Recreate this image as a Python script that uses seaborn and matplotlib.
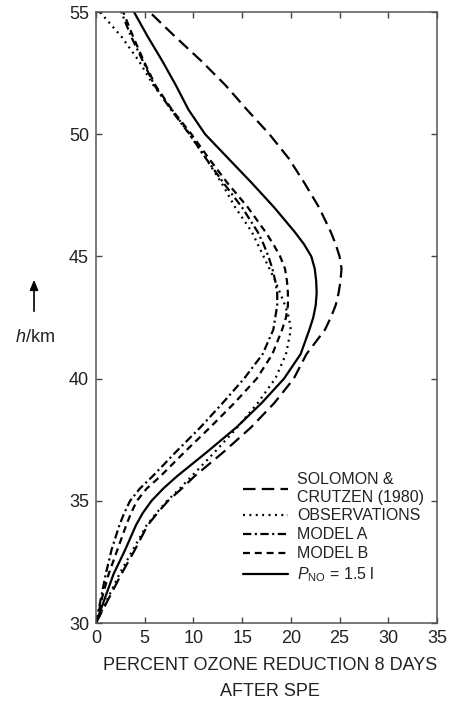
import seaborn as sns
import matplotlib.pyplot as plt
import pandas as pd

# altitude (km) and percent ozone reduction 8 days after the SPE
heights = [30, 31, 32, 33, 34, 34.5, 35, 35.5, 36, 37, 38, 39, 40, 41, 42, 42.5, 43, 43.5,
           44, 44.5, 45, 45.5, 46, 47, 48, 49, 50, 51, 52, 53, 54, 55]
solomon = [0, 1.3, 2.6, 4.0, 5.3, 6.3, 7.4, 8.8, 10.1, 13.1, 15.9, 18.3, 20.3, 21.6, 23.5, 24.1,
           24.6, 24.9, 25.1, 25.2, 25.0, 24.6, 24.1, 22.9, 21.4, 19.8, 17.8, 15.5, 13.3, 10.8, 8.1, 5.5]
observations = [0, 1.2, 2.4, 3.8, 5.2, 6.2, 7.3, 8.6, 9.8, 12.2, 14.5, 16.6, 18.4, 19.5, 20.0, 19.8,
                19.4, 18.9, 18.4, 17.8, 17.2, 16.6, 16.0, 14.3, 12.9, 11.3, 9.6, 7.8, 5.9, 4.4, 2.6, 0.4]
model_a = [0, 0.5, 1.0, 1.6, 2.4, 2.9, 3.5, 4.5, 5.8, 8.2, 10.7, 13.0, 15.2, 17.1, 18.2, 18.4,
           18.6, 18.6, 18.4, 18.1, 17.7, 17.2, 16.6, 15.0, 13.1, 11.3, 9.6, 7.7, 6.0, 4.8, 3.6, 2.6]
model_b = [0, 0.6, 1.3, 2.2, 3.1, 3.6, 4.2, 5.2, 6.6, 9.1, 11.7, 14.2, 16.5, 18.1, 19.1, 19.5,
           19.7, 19.7, 19.6, 19.4, 18.9, 18.2, 17.4, 15.6, 13.5, 11.6, 9.8, 7.8, 6.1, 4.9, 3.8, 2.8]
p_no = [0, 0.9, 1.8, 3.0, 4.1, 4.8, 5.7, 6.9, 8.3, 11.4, 14.4, 17.0, 19.3, 21.0, 21.9, 22.3,
        22.55, 22.65, 22.6, 22.45, 22.1, 21.35, 20.4, 18.3, 16.0, 13.6, 11.2, 9.5, 8.2, 6.8, 5.3, 3.9]

names = ["SOLOMON &\nCRUTZEN (1980)", "OBSERVATIONS", "MODEL A", "MODEL B",
         r"$P_{\mathrm{NO}}$ = 1.5 l"]
series = [solomon, observations, model_a, model_b, p_no]

df = pd.concat([pd.DataFrame({"series": n, "height": heights, "reduction": v})
                for n, v in zip(names, series)], ignore_index=True)

sns.set_style("ticks")
plt.rcParams["font.family"] = ["Liberation Sans", "DejaVu Sans"]
plt.rcParams["mathtext.fontset"] = "custom"
plt.rcParams["mathtext.rm"] = "Liberation Sans"
plt.rcParams["mathtext.it"] = "Liberation Sans:italic"
plt.rcParams["lines.scale_dashes"] = False
plt.rcParams["lines.solid_joinstyle"] = "round"
plt.rcParams["lines.dash_joinstyle"] = "round"

fig, ax = plt.subplots(figsize=(4.5, 7.02), dpi=100)
fig.subplots_adjust(left=0.2133, right=0.9711, top=0.9829, bottom=0.1125)

dashes = {
    names[0]: (9, 4.5),
    names[1]: (1.4, 3.2),
    names[2]: (6, 2.5, 1.5, 2.5),
    names[3]: (5, 3.5),
    names[4]: "",
}
sns.lineplot(data=df, x="reduction", y="height", hue="series", style="series",
             hue_order=names, style_order=names,
             palette={n: "black" for n in names}, dashes=dashes,
             orient="y", estimator=None, sort=True, linewidth=1.6, ax=ax)

ax.set_xlim(0, 35)
ax.set_ylim(30, 55)
ax.set_xticks(range(0, 36, 5))
ax.set_yticks(range(30, 56, 5))
ax.tick_params(direction="in", top=True, right=True, length=4.5, width=1,
               color="#444444", labelsize=13, labelcolor="#222222", pad=5)
for s in ax.spines.values():
    s.set_visible(True)
    s.set_color("#555555")
    s.set_linewidth(1.1)
ax.set_xlabel("")
ax.set_ylabel("")

sns.move_legend(ax, "upper left", bbox_to_anchor=(0.431, 0.247), frameon=False,
                title=None, fontsize=11.5, handlelength=2.8, handletextpad=0.6,
                labelspacing=0.25, borderpad=0, borderaxespad=0)
for t in ax.get_legend().get_texts():
    t.set_color("#222222")

fig.text(0.6, 1 - 665 / 702, "PERCENT OZONE REDUCTION 8 DAYS", ha="center", va="center",
         fontsize=13, color="#222222")
fig.text(0.6, 1 - 692 / 702, "AFTER SPE", ha="center", va="center",
         fontsize=13, color="#222222")

fig.text(0.078, 1 - 337 / 702, "$h$/km", ha="center", va="center", fontsize=13, color="#222222")
ax.annotate("", xy=(0.0756, 1 - 277 / 702), xytext=(0.0756, 1 - 314 / 702),
            xycoords="figure fraction", textcoords="figure fraction",
            arrowprops=dict(arrowstyle="-|>,head_length=0.6,head_width=0.25",
                            color="black", lw=1.2))

fig.savefig("out.png", dpi=100)
